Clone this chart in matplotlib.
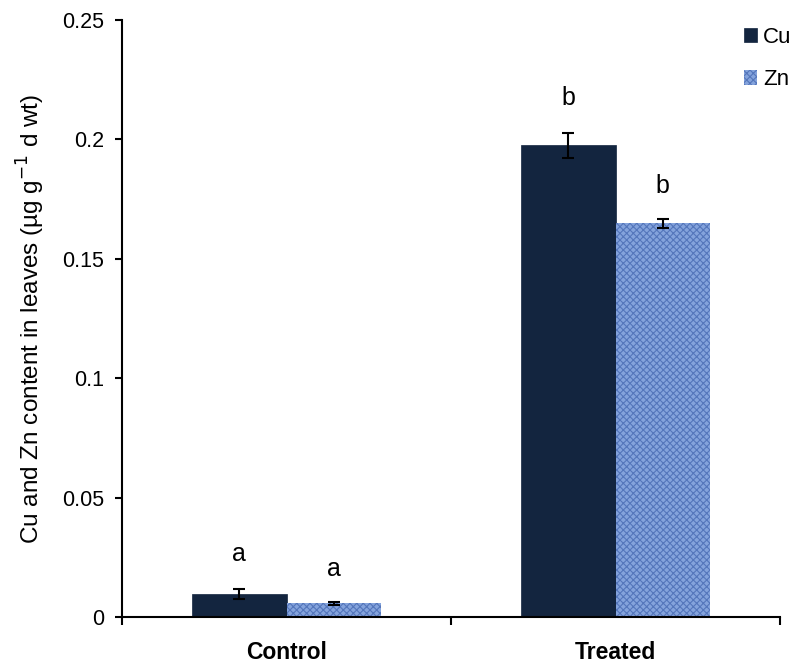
import matplotlib
matplotlib.use('Agg')
import matplotlib.pyplot as plt
import numpy as np

plt.rcParams['font.family'] = ['Liberation Sans', 'DejaVu Sans']
plt.rcParams['hatch.linewidth'] = 0.8

groups = ['Control', 'Treated']
series = ['Cu', 'Zn']
cu_vals = [0.0097, 0.1975]
zn_vals = [0.0058, 0.1648]
cu_err = [0.0022, 0.0052]
zn_err = [0.0006, 0.0020]
cu_letters = ['a', 'b']
zn_letters = ['a', 'b']

fig = plt.figure(figsize=(7.92, 6.63), dpi=100)
ax = fig.add_axes([0.154, 0.0694, 0.831, 0.9004])

x = np.arange(len(groups))
w = 0.287

# Cu bars (dark navy)
ax.bar(x - w / 2, cu_vals, w, color='#13253f', edgecolor='#13253f', linewidth=0.5, label=series[0])
# Zn bars (textured blue)
ax.bar(x + w / 2, zn_vals, w, color='#84a3dc', edgecolor='#5476bb', hatch='xxxxx', linewidth=0, label=series[1])

ax.errorbar(x - w / 2, cu_vals, yerr=cu_err, fmt='none', ecolor='black', elinewidth=1.5, capsize=4, capthick=1.5)
ax.errorbar(x + w / 2, zn_vals, yerr=zn_err, fmt='none', ecolor='black', elinewidth=1.5, capsize=4, capthick=1.5)

# significance letters
for i in range(len(groups)):
    ax.text(x[i] - w / 2, cu_vals[i] + cu_err[i] + 0.0145, cu_letters[i], ha='center', va='center', fontsize=18)
    ax.text(x[i] + w / 2, zn_vals[i] + zn_err[i] + 0.0135, zn_letters[i], ha='center', va='center', fontsize=18)

ax.set_xlim(-0.5, 1.5)
ax.set_ylim(0, 0.25)
ax.set_yticks([0, 0.05, 0.1, 0.15, 0.2, 0.25])
ax.set_yticklabels(['0', '0.05', '0.1', '0.15', '0.2', '0.25'])
ax.tick_params(axis='y', labelsize=15.5, direction='out', length=5, width=1.5, pad=8)

# category labels centred, ticks at group boundaries
ax.set_xticks([-0.5, 0.5, 1.5])
ax.set_xticklabels(['', '', ''])
ax.tick_params(axis='x', direction='out', length=6, width=1.5)
ax.set_xticks(x, minor=True)
ax.set_xticklabels(groups, minor=True, fontsize=16.5, fontweight='bold')
ax.tick_params(axis='x', which='minor', length=0, pad=17)

ax.set_ylabel('Cu and Zn content in leaves (µg g$^{-1}$ d wt)', fontsize=17.5, labelpad=11)

for s in ['top', 'right']:
    ax.spines[s].set_visible(False)
ax.spines['left'].set_linewidth(1.5)
ax.spines['bottom'].set_linewidth(1.5)

ax.legend(loc='upper left', bbox_to_anchor=(0.945, 0.988), frameon=False, fontsize=16,
          borderpad=0, borderaxespad=0, handlelength=0.6, handleheight=0.6,
          handletextpad=0.25, labelspacing=0.95)

fig.savefig('out.png', dpi=100)
